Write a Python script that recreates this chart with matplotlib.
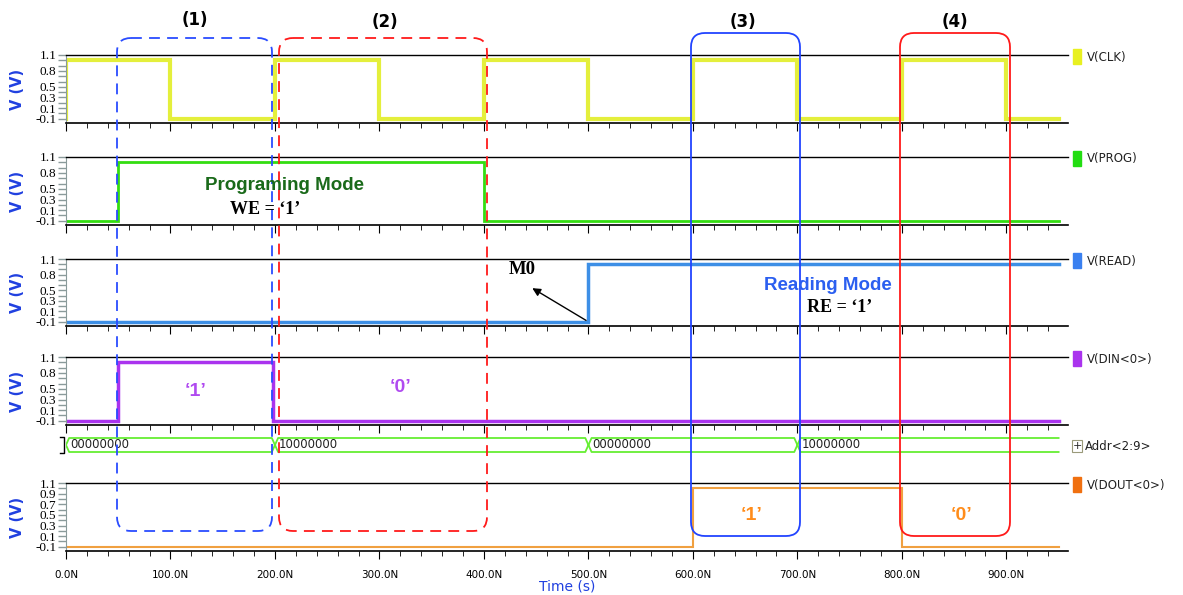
import numpy as np
import matplotlib.pyplot as plt
from matplotlib.patches import FancyBboxPatch, Rectangle
from matplotlib.ticker import MultipleLocator, FixedLocator, FuncFormatter

plt.rcParams["axes.unicode_minus"] = False

W, H = 1183, 595

# waveforms (time in ns, level in V)
clk_t = [0, 0, 100, 200, 300, 400, 500, 600, 700, 800, 900, 950]
clk_v = [-0.1, 1.0, -0.1, 1.0, -0.1, 1.0, -0.1, 1.0, -0.1, 1.0, -0.1, -0.1]
prog_t = [0, 50, 400, 950]
prog_v = [-0.1, 1.0, -0.1, -0.1]
read_t = [0, 500, 950]
read_v = [-0.1, 1.0, 1.0]
din_t = [0, 50, 198, 950]
din_v = [-0.1, 1.0, -0.1, -0.1]
dout_t = [0, 600, 800, 950]
dout_v = [-0.1, 1.0, -0.1, -0.1]
addr_t = [0, 200, 500, 700, 950]
addr_v = ["00000000", "10000000", "00000000", "10000000"]

yt_a = [1.1, 0.8, 0.5, 0.3, 0.1, -0.1]
yt_b = [1.1, 0.9, 0.7, 0.5, 0.3, 0.1, -0.1]


def rect(x0, y0, x1, y1):
    return [x0 / W, 1 - y1 / H, (x1 - x0) / W, (y1 - y0) / H]


fig = plt.figure(figsize=(W / 100, H / 100), dpi=100)

X0, X1 = 66, 1068
panels = [
    ("V(CLK)", clk_t, clk_v, "#e4ef3c", 3.0, 55, 123, yt_a),
    ("V(PROG)", prog_t, prog_v, "#33dd11", 2.0, 157, 225, yt_a),
    ("V(READ)", read_t, read_v, "#3d8fe6", 2.5, 259, 326, yt_a),
    ("V(DIN<0>)", din_t, din_v, "#aa33ee", 2.5, 357, 425, yt_a),
    ("V(DOUT<0>)", dout_t, dout_v, "#f0a040", 1.5, 483, 551, yt_b),
]
marker_col = {"V(CLK)": "#e8f020", "V(PROG)": "#22dd11", "V(READ)": "#3a80f0",
              "V(DIN<0>)": "#aa33ee", "V(DOUT<0>)": "#f07010"}

axes = {}
for i, (name, t, v, col, lw, ytop, ybot, yt) in enumerate(panels):
    ax = fig.add_axes(rect(X0, ytop, X1, ybot))
    ax.step(t, v, where="post", color=col, lw=lw, solid_joinstyle="miter")
    ax.set_xlim(0, 959)
    ax.set_ylim(-0.18, 1.1)
    ax.spines["right"].set_visible(False)
    ax.spines["top"].set_color("black")
    ax.spines["top"].set_linewidth(1.0)
    ax.spines["bottom"].set_color("black")
    ax.spines["bottom"].set_linewidth(1.2)
    ax.spines["left"].set_color("#8a9a9a")
    ax.yaxis.set_major_locator(FixedLocator(yt))
    ax.yaxis.set_minor_locator(FixedLocator([k / 10 for k in range(-1, 12)]))
    ax.tick_params(axis="y", which="both", colors="#8a9a9a", length=6, width=1,
                   labelcolor="black", labelsize=9.5, pad=1)
    for lab in ax.get_yticklabels():
        lab.set_fontfamily("Liberation Serif")
    ax.xaxis.set_major_locator(MultipleLocator(100))
    ax.xaxis.set_minor_locator(MultipleLocator(20))
    ax.tick_params(axis="x", which="major", length=6, color="black")
    ax.tick_params(axis="x", which="minor", length=3.5, color="black")
    if name == "V(DOUT<0>)":
        ax.xaxis.set_major_formatter(FuncFormatter(lambda x, p: f"{x:.1f}N"))
        ax.tick_params(axis="x", labelsize=7.5, pad=8)
    else:
        ax.tick_params(axis="x", labelbottom=False)
    fig.text(18 / W, 1 - (ytop + ybot) / 2 / H, "V (V)", rotation=90, color="#2040e0",
             fontsize=10.5, fontweight="bold", ha="center", va="center")
    fig.patches.append(Rectangle((1073 / W, 1 - (ytop + 9) / H), 8 / W, 15 / H,
                                 transform=fig.transFigure, color=marker_col[name]))
    fig.text(1087 / W, 1 - (ytop + 2) / H, name, fontsize=8.5, color="#222222",
             va="center", ha="left")
    axes[name] = ax

# address bus
bx = fig.add_axes(rect(X0, 435, X1, 455))
bx.set_xlim(0, 959)
bx.set_ylim(-1, 1)
bx.axis("off")
h, d = 0.7, 3
for i, val in enumerate(addr_v):
    t0, t1 = addr_t[i], addr_t[i + 1]
    last = i == len(addr_v) - 1
    xs_top = [t0, t0 + d, t1 if last else t1 - d] + ([] if last else [t1])
    ys_top = [0, h, h] + ([] if last else [0])
    bx.plot(xs_top, ys_top, color="#66ee33", lw=1.3)
    bx.plot(xs_top, [-y for y in ys_top], color="#66ee33", lw=1.3)
    bx.text(t0 + d + 1, 0, val, fontsize=8.5, va="center", ha="left", color="#222222")
fig.patches.append(Rectangle((1072 / W, 1 - 452 / H), 10 / W, 12 / H, transform=fig.transFigure,
                             fill=False, ec="#9a9a7a", lw=0.8))
fig.text(1077 / W, 1 - 446 / H, "+", fontsize=8, ha="center", va="center", color="#222222")
fig.text(1085 / W, 1 - 446 / H, "Addr<2:9>", fontsize=8.5, va="center", ha="left", color="#222222")

# M0 arrow on READ panel
axes["V(READ)"].annotate("", xy=(444, 0.57), xytext=(500, -0.1),
                         arrowprops=dict(arrowstyle="-|>", color="black", lw=1, mutation_scale=12))

# overlay in pixel space
ov = fig.add_axes([0, 0, 1, 1])
ov.set_xlim(0, W)
ov.set_ylim(H, 0)
ov.axis("off")
ov.patch.set_alpha(0)

boxes = [(117, 38, 272, 531, "#2a4cff", (0, (6, 4))),
         (279, 38, 487, 531, "#ff1a1a", (0, (6, 4))),
         (691, 33, 800, 536, "#2244ff", "-"),
         (900, 33, 1010, 536, "#ff1a1a", "-")]
for x0, y0, x1, y1, c, ls in boxes:
    ov.add_patch(FancyBboxPatch((x0, y0), x1 - x0, y1 - y0,
                                boxstyle="round,pad=0,rounding_size=14",
                                fill=False, ec=c, ls=ls, lw=1.3))

for lab, x, y in [("(1)", 195, 20), ("(2)", 385, 22), ("(3)", 743, 22), ("(4)", 955, 22)]:
    ov.text(x, y, lab, fontsize=12, fontweight="bold", ha="center", va="center")

ov.text(285, 185, "Programing Mode", fontsize=13.5, fontweight="bold", color="#1a6a1a",
        ha="center", va="center", family="Liberation Sans")
ov.text(265, 209, "WE = \u20181\u2019", fontsize=13, fontweight="bold", ha="center", va="center",
        family="Liberation Serif")
ov.text(522, 270, "M0", fontsize=13.5, fontweight="bold", ha="center", va="center",
        family="Liberation Serif")
ov.text(828, 285, "Reading Mode", fontsize=13.5, fontweight="bold", color="#2b5ff0",
        ha="center", va="center", family="Liberation Sans")
ov.text(840, 308, "RE = \u20181\u2019", fontsize=13, fontweight="bold", ha="center", va="center",
        family="Liberation Serif")
ov.text(196, 392, "\u20181\u2019", fontsize=14, fontweight="bold", color="#b04af0",
        ha="center", va="center", family="Liberation Sans")
ov.text(401, 388, "\u20180\u2019", fontsize=14, fontweight="bold", color="#b04af0",
        ha="center", va="center", family="Liberation Sans")
ov.text(752, 515, "\u20181\u2019", fontsize=14, fontweight="bold", color="#ff8c1a",
        ha="center", va="center", family="Liberation Sans")
ov.text(962, 515, "\u20180\u2019", fontsize=14, fontweight="bold", color="#ff8c1a",
        ha="center", va="center", family="Liberation Sans")
ov.plot([60, 64, 64, 60], [437, 437, 453, 453], color="black", lw=1)
ov.text(567, 586, "Time (s)", fontsize=10, color="#2040e0", ha="center", va="center")

fig.savefig("out.png", dpi=100)
